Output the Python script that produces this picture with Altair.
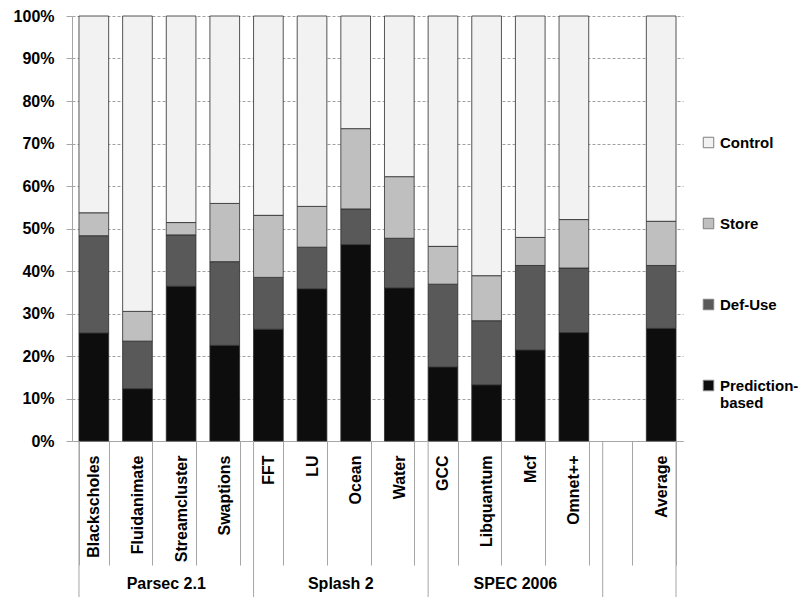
import altair as alt
import pandas as pd

# ---- data ----
categories = ["Blackscholes", "Fluidanimate", "Streamcluster", "Swaptions",
              "FFT", "LU", "Ocean", "Water",
              "GCC", "Libquantum", "Mcf", "Omnet++", "Average"]
prediction = [25.4, 12.3, 36.4, 22.5, 26.3, 35.8, 46.2, 36.0, 17.4, 13.2, 21.4, 25.5, 26.5]
def_use    = [22.9, 11.2, 12.1, 19.7, 12.2,  9.8,  8.4, 11.7, 19.5, 15.1, 19.9, 15.2, 14.8]
store      = [ 5.4,  7.0,  2.9, 13.7, 14.6,  9.6, 18.9, 14.5,  8.9, 10.6,  6.6, 11.4, 10.4]
control    = [46.3, 69.5, 48.6, 44.1, 46.9, 44.8, 26.5, 37.8, 54.2, 61.1, 52.1, 47.9, 48.3]

series_names = ["Control", "Store", "Def-Use", "Prediction-based"]
series_colors = ["#f2f2f2", "#bfbfbf", "#595959", "#0d0d0d"]

groups = ["Parsec 2.1", "Splash 2", "SPEC 2006"]
group_anchor = ["Streamcluster", "Ocean", "Mcf"]          # label sits on left edge of this band
long_sep = ["Blackscholes", "FFT", "GCC", " "]             # group separators (left edge)
x_domain = categories[:-1] + [" "] + categories[-1:]

series_values = {"Prediction-based": prediction, "Def-Use": def_use,
                 "Store": store, "Control": control}
stack_idx = {"Prediction-based": 0, "Def-Use": 1, "Store": 2, "Control": 3}

rows = []
for s, vals in series_values.items():
    for c, v in zip(categories, vals):
        rows.append({"cat": c, "series": s, "value": v, "idx": stack_idx[s]})
df = pd.DataFrame(rows)

FONT = "Liberation Sans"
W, H = 611, 425
GRAY = "#a6a6a6"

xscale = alt.Scale(domain=x_domain, paddingInner=0.32, paddingOuter=0.16)

bars = alt.Chart(df).mark_bar(stroke="#2b2b2b", strokeWidth=0.8).encode(
    x=alt.X("cat:N", scale=xscale, title=None,
            axis=alt.Axis(labelAngle=270, labelAlign="right", labelBaseline="middle",
                          labelFont=FONT, labelFontSize=16, labelFontWeight="bold",
                          labelColor="black", labelPadding=-110, labelLimit=0,
                          tickBand="extent", tickSize=124, tickColor=GRAY,
                          domainColor=GRAY, grid=False)),
    y=alt.Y("value:Q", stack="zero", scale=alt.Scale(domain=[0, 100], nice=False),
            title=None,
            axis=alt.Axis(values=list(range(0, 101, 10)), labelExpr="datum.value + '%'",
                          labelFont=FONT, labelFontSize=16, labelFontWeight="bold",
                          labelColor="black", labelPadding=12, tickSize=6,
                          tickColor=GRAY, domainColor=GRAY, grid=True,
                          gridColor="#a0a0a0", gridDash=[3, 2], gridWidth=1)),
    color=alt.Color("series:N", scale=alt.Scale(domain=series_names, range=series_colors),
                    legend=alt.Legend(orient="none", legendX=629, legendY=119, title=None,
                                      symbolType="square", symbolSize=110,
                                      symbolStrokeColor="#7f7f7f", symbolStrokeWidth=1,
                                      labelFont=FONT, labelFontSize=15,
                                      labelFontWeight="bold", labelColor="black",
                                      labelOffset=4, rowPadding=65, labelLimit=0,
                                      labelExpr="datum.label == 'Prediction-based' ? ['Prediction-', 'based'] : datum.label")),
    order=alt.Order("idx:Q", sort="ascending"),
)

grp_df = pd.DataFrame({"cat": group_anchor, "label": groups})
group_text = alt.Chart(grp_df).mark_text(font=FONT, fontSize=16, fontWeight="bold",
                                         color="black", baseline="middle").encode(
    x=alt.X("cat:N", bandPosition=0),
    y=alt.value(H + 143),
    text="label:N",
)

sep_df = pd.DataFrame({"cat": long_sep})
seps = alt.Chart(sep_df).mark_rule(color=GRAY, strokeWidth=1).encode(
    x=alt.X("cat:N", bandPosition=0),
    y=alt.value(H),
    y2=alt.value(H + 170),
)
end_df = pd.DataFrame({"cat": categories[-1:]})
end_sep = alt.Chart(end_df).mark_rule(color=GRAY, strokeWidth=1).encode(
    x=alt.X("cat:N", bandPosition=1),
    y=alt.value(H),
    y2=alt.value(H + 170),
)

chart = alt.layer(bars, seps, end_sep, group_text).properties(
    width=W, height=H,
    padding={"left": 64, "top": 8, "right": 119, "bottom": 156},
    autosize=alt.AutoSizeParams(type="none"),
    background="white",
).configure_view(stroke=None)

chart.save("out.html", embed_options={"renderer": "svg", "actions": False})
